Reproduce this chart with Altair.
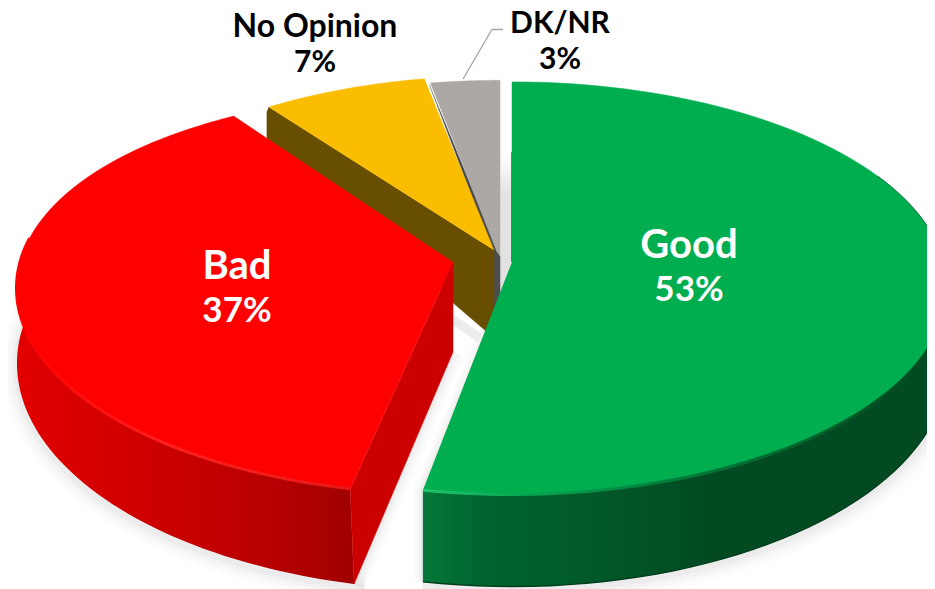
import math
import altair as alt
import pandas as pd

categories = ["Good", "Bad", "No Opinion", "DK/NR"]
shares = [53, 37, 7, 3]
label_pct = ["53%", "37%", "7%", "3%"]

# layout of the perspective pie (pixels)
SLICE = {
    "Good": dict(ax=512, ay=262, R=432, Rt=203, k=.127, back=0, h=75, e=1.5, dx=0),
    "Bad": dict(ax=453, ay=262, R=433, Rt=203, k=.127, back=.05, h=75, e=1.8, dx=4),
    "No Opinion": dict(ax=494, ay=250, R=417, Rt=196, k=.127, back=0, h=75, e=1.5, dx=0),
    "DK/NR": dict(ax=500, ay=256, R=417, Rt=198, k=.127, back=0, h=75, e=1.5, dx=0),
}
TEXT = {
    "Good": (689, 246, 40, 689, 290, 35, "white"),
    "Bad": (237, 267, 40, 237, 311, 35, "white"),
    "No Opinion": (315, 27, 32, 315, 63, 30, "black"),
    "DK/NR": (560, 24, 30, 560, 60, 30, "black"),
}

spans = {}
a = 0.0
for c, s in zip(categories, shares):
    spans[c] = (a, a + s * 3.6)
    a += s * 3.6


def pt(c, deg, drop=False):
    p = SLICE[c]
    r = math.radians(deg)
    X, Y = math.sin(r), -math.cos(r)
    w = 1 - p["k"] * Y
    x = p["ax"] + p["R"] * X / w
    y = p["ay"] + p["Rt"] * (1 - p["back"] * max(0, -Y)) * Y / w
    if drop:
        y += p["h"] / w ** p["e"]
        x += p["dx"] * max(0, Y)
    return x, y


def arc(c, a0, a1, drop=False, n=90):
    return [pt(c, a0 + (a1 - a0) * i / n, drop) for i in range(n + 1)]


X_SCALE = alt.Scale(domain=[8, 927], range=[0, 919])
Y_SCALE = alt.Scale(domain=[8, 589], range=[0, 581])


def shape(points, **mark):
    df = pd.DataFrame([{"x": x, "y": y, "i": i} for i, (x, y) in enumerate(points)])
    return alt.Chart(df).mark_line(clip=True, **mark).encode(
        x=alt.X("x:Q", scale=X_SCALE, axis=None),
        y=alt.Y("y:Q", scale=Y_SCALE, axis=None),
        order=alt.Order("i:Q"),
    )


def grad(*stops, vertical=False):
    return alt.LinearGradient(
        gradient="linear", x1=0, x2=0 if vertical else 1, y1=0, y2=1 if vertical else 0,
        stops=[alt.GradientStop(offset=o, color=c) for o, c in stops],
    )


def solid(points, color):
    return shape(points, fill=color, stroke=color, strokeWidth=0.5)


layers = []
g0, g1 = spans["Good"]
g1 -= 0.4
b0, b1 = spans["Bad"]
y0, y1 = spans["No Opinion"]
y0 -= 0.5
d0, d1 = spans["DK/NR"]
gx, gy = SLICE["Good"]["ax"], SLICE["Good"]["ay"]
rx, ry = SLICE["Bad"]["ax"], SLICE["Bad"]["ay"]

# soft shadow
red_low = pt("Bad", b0 + 1.2, True)
green_top_end = pt("Good", g1)
green_low_end = pt("Good", g1, True)
for width, op in [(30, .025), (22, .03), (14, .04), (7, .05)]:
    for c, s0, s1 in [("Good", 60, g1), ("Bad", b0, 285)]:
        pts = [(x, y + 3) for x, y in arc(c, s0, s1, True)]
        layers.append(shape(pts, stroke="#777777", strokeWidth=width, strokeOpacity=op))
    layers.append(shape([(rx, ry + 90), red_low], stroke="#777777", strokeWidth=width * .8, strokeOpacity=op))
    layers.append(shape([(gx - 25, gy + 70), green_top_end, green_low_end], stroke="#777777",
                        strokeWidth=width * .6, strokeOpacity=op))
layers.append(shape([(gx - 12, gy - 108), (gx + 1, gy - 108), (gx + 1, gy + 50), (gx - 12, gy + 50)],
                    strokeOpacity=0, fill=grad((0, "#ffffff"), (.25, "#e4e4e4"), (1, "#e0e0e0"), vertical=True)))
layers.append(solid([(gx - 60, gy + 52), (gx - 30, gy + 72), (gx - 34, gy + 80), (gx - 60, gy + 62)], "#ececec"))

# gray slice
ax, ay = SLICE["DK/NR"]["ax"], SLICE["DK/NR"]["ay"]
p0 = pt("DK/NR", d0)
layers.append(solid([(p0[0] - 1, p0[1] + 2), (ax - 6.5, ay - 3), (ax - 6.5, ay + 70), (ax, ay + 70), (ax, ay)], "#4d4d4d"))
layers.append(solid([(ax - 3, ay - 4)] + arc("DK/NR", d0, d1, n=20) + [(ax, ay)], "#aca8a6"))

# yellow slice with brown wall
ax, ay = SLICE["No Opinion"]["ax"], SLICE["No Opinion"]["ay"]
p0 = pt("No Opinion", y0)
layers.append(solid([p0, (p0[0] - 2, p0[1] + 5), (p0[0] - 2, p0[1] + 36), (ax, ay + 88), (ax, ay)], "#674e00"))
layers.append(solid([(ax, ay)] + arc("No Opinion", y0, y1, n=30), "#fbbd00"))

# green slice
top = arc("Good", g0, g1)
low = arc("Good", g0, g1, True)
vis = [p for p in range(len(top)) if g0 + (g1 - g0) * p / 90 >= 80]
wall = [top[i] for i in vis] + [low[i] for i in reversed(vis)]
layers.append(shape(wall, fill=grad((0, "#05793a"), (.1, "#00662f"), (.3, "#005a29"),
                                    (.55, "#014a22"), (1, "#014a22")), strokeOpacity=0))
layers.append(shape(low[-45:], stroke="#003f1c", strokeWidth=1.5))
layers.append(shape([(gx, gy - 110), (gx, gy)], stroke="#0a3a20", strokeWidth=1.2))
layers.append(solid([(gx, gy)] + top, "#00ae50"))
layers.append(shape([top[i] for i in vis], strokeWidth=3,
                    stroke=grad((0, "#20c26c"), (.2, "#05a650"), (.45, "#00803c"), (1, "#00491f"))))
layers.append(shape(top[30:46], stroke="#0c5a30", strokeWidth=0.8))

# red slice
top = arc("Bad", b0 + 1.2, b1 + 2)
low = arc("Bad", b0 + 1.2, b1 + 2, True)
vis_red = top[:58]
layers.append(shape(vis_red + low[:58][::-1], fill=grad((0, "#e20000"), (.35, "#d00000"), (.75, "#b80000"),
                                                          (1, "#a00000")), strokeOpacity=0))
layers.append(solid([(rx, ry), (rx, ry + 90), low[0], top[0]], "#cc0000"))
layers.append(solid([(rx, ry)] + top, "#ff0000"))
layers.append(shape(vis_red, strokeWidth=3, stroke=grad((0, "#ff0000"), (.45, "#ff2020"), (1, "#e81818"))))

# leader line
leader = pd.DataFrame({"x": [463, 492, 503], "y": [79, 29.5, 29.5], "i": [0, 1, 2]})
layers.append(alt.Chart(leader).mark_line(stroke="#a6a6a6", strokeWidth=1.3).encode(
    x=alt.X("x:Q", scale=X_SCALE, axis=None),
    y=alt.Y("y:Q", scale=Y_SCALE, axis=None),
    order=alt.Order("i:Q"),
))

# labels
for c, pct in zip(categories, label_pct):
    x1, y1_, s1_, x2, y2, s2_, col = TEXT[c]
    for tx, ty, ts, tt in [(x1, y1_, s1_, c), (x2, y2, s2_, pct)]:
        tdf = pd.DataFrame({"x": [tx], "y": [ty], "t": [tt]})
        layers.append(alt.Chart(tdf).mark_text(font="Lato", fontWeight="bold", fontSize=ts,
                                               color=col, align="center", baseline="middle").encode(
            x=alt.X("x:Q", scale=X_SCALE, axis=None),
            y=alt.Y("y:Q", scale=Y_SCALE, axis=None),
            text="t:N",
        ))

chart = alt.layer(*layers).properties(width=919, height=581, padding=0, autosize="none",
                                      background="white").configure_view(stroke=None)
chart.save("out.html", embed_options={"renderer": "svg", "actions": False})
